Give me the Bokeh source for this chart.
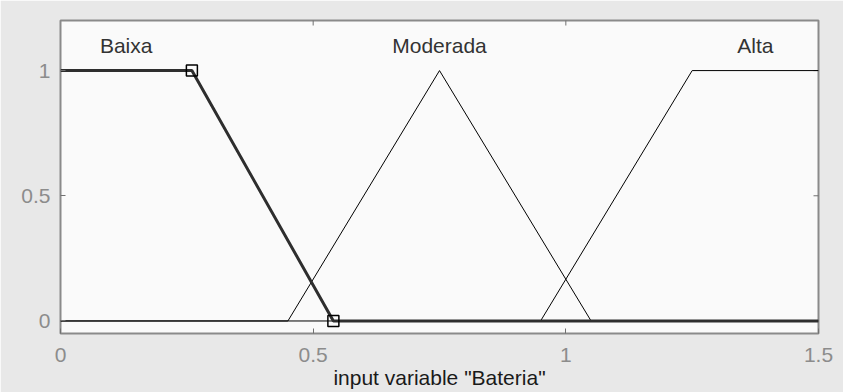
import math
from bokeh.plotting import figure
from bokeh.models import FixedTicker, LinearAxis, Range1d
from bokeh.embed import file_html
from bokeh.resources import INLINE

# Membership functions of the input variable "Bateria" (vertex lists)
baixa_x = [0, 0.26, 0.54, 1.5]
baixa_y = [1, 1, 0, 0]
moderada_x = [0, 0.45, 0.75, 1.05, 1.5]
moderada_y = [0, 0, 1, 0, 0]
alta_x = [0, 0.95, 1.25, 1.5]
alta_y = [0, 0, 1, 1]

# Selected function handles (knee points of "Baixa")
handle_x = [0.26, 0.54]
handle_y = [1, 0]

# Names shown above each function
mf_names = ["Baixa", "Moderada", "Alta"]
mf_name_x = [0.13, 0.75, 1.375]
mf_name_y = [1.1, 1.1, 1.1]

x_ticks = [0, 0.5, 1, 1.5]
x_tick_labels = ["0", "0.5", "1", "1.5"]
y_ticks = [0, 0.5, 1]
y_tick_labels = ["0", "0.5", "1"]

X_MIN, X_MAX = 0, 1.5
Y_MIN, Y_MAX = -0.05, 1.2

FONT = "Liberation Sans"
BG = "#e8e8e8"
FS = "21px"

p = figure(width=843, height=392, output_backend="svg", toolbar_location=None,
           x_range=Range1d(X_MIN, X_MAX), y_range=Range1d(Y_MIN, Y_MAX),
           x_axis_location=None, y_axis_location=None,
           min_border_left=60, min_border_right=25, min_border_top=20,
           min_border_bottom=59)
p.background_fill_color = "#fafafa"
p.border_fill_color = BG
p.outline_line_color = "#8a8a8a"
p.outline_line_width = 2
p.grid.visible = False


def make_axis(ticks, labels):
    ax = LinearAxis(ticker=FixedTicker(ticks=ticks))
    ax.axis_line_color = None
    ax.major_tick_in = 5
    ax.major_tick_out = 0
    ax.minor_tick_line_color = None
    ax.major_tick_line_color = "#707070"
    ax.major_label_overrides = dict(zip(ticks, labels))
    ax.major_label_text_font = FONT
    ax.major_label_text_font_size = FS
    ax.major_label_text_color = "#8c8c8c"
    return ax


bottom = make_axis(x_ticks, x_tick_labels)
bottom.major_label_standoff = 14
bottom.axis_label = 'input variable "Bateria"'
bottom.axis_label_text_font = FONT
bottom.axis_label_text_font_size = FS
bottom.axis_label_text_font_style = "normal"
bottom.axis_label_text_color = "#1a1a1a"
bottom.axis_label_standoff = 1
p.add_layout(bottom, "below")

left = make_axis(y_ticks, y_tick_labels)
left.major_label_standoff = 10
p.add_layout(left, "left")

# Inward tick marks on the top and right edges (the half outside the
# frame is clipped away)
p.scatter([x for x in x_ticks if X_MIN < x < X_MAX], Y_MAX, marker="dash",
          size=10, angle=math.pi / 2, line_color="#707070", line_width=1)
p.scatter(X_MAX, [y for y in y_ticks if Y_MIN < y < Y_MAX], marker="dash",
          size=10, line_color="#707070", line_width=1)

# Unselected functions: thin black lines
p.line(moderada_x, moderada_y, line_color="black", line_width=1)
p.line(alta_x, alta_y, line_color="black", line_width=1)
# Selected function: thick dark line with square handles
p.line(baixa_x, baixa_y, line_color="#2e2e2e", line_width=3)
p.scatter(handle_x, handle_y, marker="square", size=11, fill_color=None,
          line_color="black", line_width=1.5)

p.text(mf_name_x, mf_name_y, text=mf_names, text_align="center",
       text_baseline="middle", text_font={"value": FONT},
       text_font_size=FS, text_color="#333333")

open("out.html", "w").write(file_html(p, INLINE))
